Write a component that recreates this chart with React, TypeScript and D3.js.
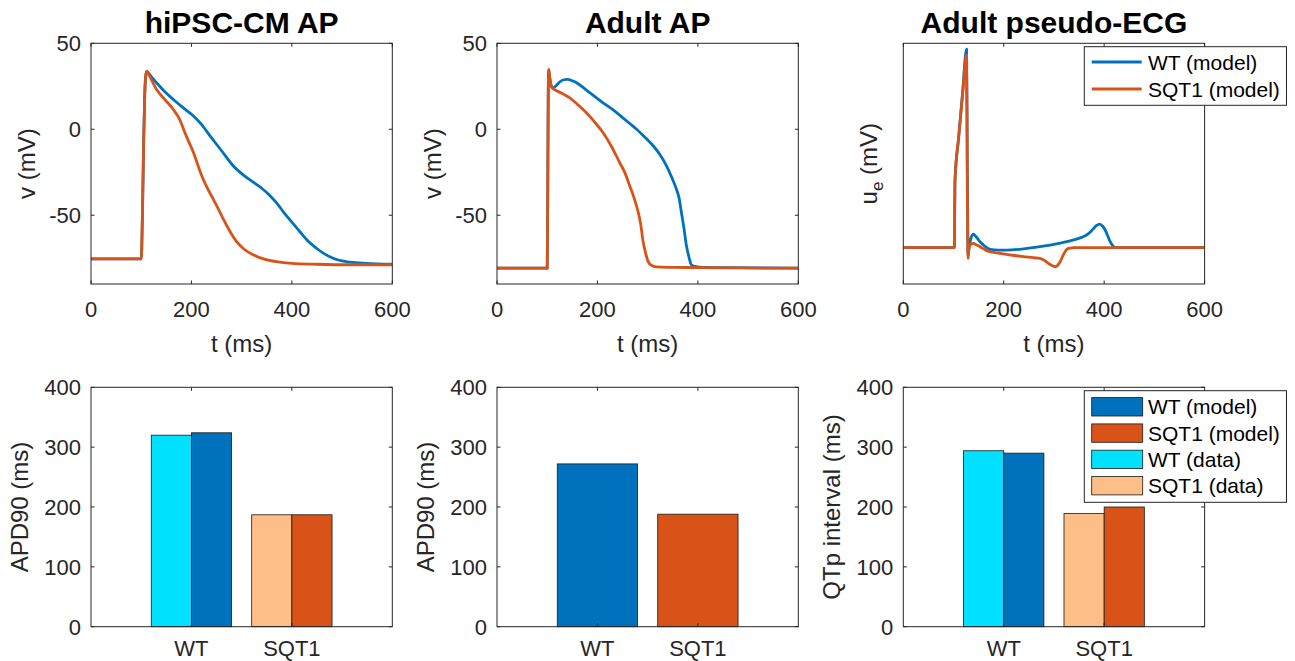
import React from 'react';
import * as d3 from 'd3';

const W = 1295;
const H = 661;
const FONT = "'Liberation Sans', Arial, Helvetica, sans-serif";
const AX = '#262626';
const BLUE = '#0072BD';
const ORANGE = '#D95319';
const CYAN = '#00E1FF';
const PEACH = '#FDBE87';

// ---- axis ticks / categories ----
const tTicks = [0, 200, 400, 600];
const vTicks = [-50, 0, 50];
const barTicks = [0, 100, 200, 300, 400];
const categories = ['WT', 'SQT1'];

// ---- hiPSC-CM AP ----
const hiWT_t = [0, 100, 101, 103, 105, 107, 109, 111, 113, 120, 131, 145, 164, 184, 204, 220, 237, 260, 283, 303, 323, 340, 356, 370, 383, 400, 416, 432, 449, 465, 482, 500, 515, 548, 600];
const hiWT_v = [-75.4, -75.4, -70, -40, -5, 20, 31, 33.7, 33.2, 30.6, 26.9, 22.4, 17.3, 12.4, 7.7, 2.8, -3.8, -12.5, -21.2, -26.5, -30.8, -34.3, -38.5, -43, -48, -54, -59.6, -65, -69.2, -72.5, -75, -76.6, -77.3, -78, -78.5];
const hiSQ_t = [0, 100, 101, 103, 105, 107, 109, 111, 113, 120, 131, 148, 164, 177, 187, 195, 204, 213, 223, 233, 243, 253, 263, 276, 290, 305, 323, 345, 369, 400, 449, 520, 600];
const hiSQ_v = [-75.4, -75.4, -70, -40, -5, 20, 31, 33.7, 33, 29, 23, 17, 11.5, 5.5, -2, -7.5, -13.5, -21, -28.8, -35, -40.4, -46, -52, -59, -65.4, -69.8, -73, -75.5, -77, -78, -78.5, -78.8, -78.8];

// ---- Adult AP ----
const adWT_t = [0, 100, 101, 102, 103, 105, 108, 112, 118, 125, 133, 140, 150, 160, 178, 195, 211, 230, 250, 265, 278, 295, 311, 325, 337, 348, 357, 363, 367, 372, 377, 382, 387, 395, 403, 450, 600];
const adWT_v = [-80.8, -80.8, -40, 20, 34.5, 30, 25.5, 24, 25.5, 27.5, 28.8, 29, 28.2, 26.8, 22.8, 19, 15.4, 11.5, 6.8, 3.2, 0, -4.8, -9.6, -15, -21, -28, -34.6, -40.5, -48, -57, -67.3, -74, -78.8, -79.8, -80.2, -80.5, -80.8];
const adSQ_t = [0, 100, 101, 102, 103, 105, 108, 112, 118, 125, 135, 145, 160, 178, 195, 211, 228, 244, 255, 264, 273, 281, 286, 291, 296, 301, 308, 317, 340, 377, 450, 600];
const adSQ_v = [-80.8, -80.8, -40, 20, 35, 30, 25, 23.5, 22.5, 21.5, 20, 18.3, 14.5, 9.6, 4, -1.9, -10, -19.2, -25.5, -32.7, -40, -48, -55, -65.4, -72, -77, -79.3, -80, -80.3, -80.4, -80.6, -80.8];

// ---- Adult pseudo-ECG (arbitrary units) ----
const ecgWT_t = [0, 101.5, 103, 110, 118, 126, 127.5, 129, 131, 135, 139.5, 145, 152.8, 160, 172.8, 190, 206, 240, 272, 310, 339, 355, 365, 373, 379, 385, 391, 397, 402, 407, 412, 417, 422, 440, 600];
const ecgWT_u = [0, 0, 0.341, 0.55, 0.78, 1.0, 0.4, -0.04, 0.0, 0.05, 0.068, 0.055, 0.03, 0.012, -0.008, -0.012, -0.012, -0.006, 0.005, 0.022, 0.039, 0.052, 0.064, 0.08, 0.097, 0.112, 0.119, 0.108, 0.089, 0.06, 0.03, 0.01, 0, 0, 0];
const ecgSQ_t = [0, 101.5, 103, 110, 118, 126, 127.5, 129, 131, 135, 139.5, 145, 152.8, 166, 192.7, 239, 265, 275, 282, 289, 296, 302.3, 307, 312.3, 318, 325.6, 332, 339, 600];
const ecgSQ_u = [0, 0, 0.341, 0.55, 0.77, 0.97, 0.3, -0.054, 0.0, 0.018, 0.022, 0.015, 0.005, -0.015, -0.029, -0.045, -0.052, -0.056, -0.066, -0.079, -0.09, -0.096, -0.09, -0.071, -0.04, -0.008, -0.002, 0, 0];

// ---- bar values ----
const hiPSC_data = [320, 187];
const hiPSC_model = [324, 187];
const adult_model = [272, 188];
const qtp_data = [294, 189];
const qtp_model = [290, 200];

const lineLegend = ['WT (model)', 'SQT1 (model)'];
const barLegend = ['WT (model)', 'SQT1 (model)', 'WT (data)', 'SQT1 (data)'];

const LEFTS = [91, 497, 903.3];
const PW = 301.3;
const TOP0 = 43.3, TOP1 = 284;
const BOT0 = 387.3, BOT1 = 626.7;
const TICK = 3.5;
const TICKFS = 22;
const LABFS = 24;

type Series = { t: number[]; v: number[]; color: string };

function Box({ left, top, bottom, xs, ys }: { left: number; top: number; bottom: number; xs: number[]; ys: number[] }) {
  const right = left + PW;
  return (
    <g stroke={AX} strokeWidth={1} fill="none">
      <rect x={left} y={top} width={PW} height={bottom - top} />
      {xs.map((x, i) => (
        <g key={'x' + i}>
          <line x1={x} x2={x} y1={bottom} y2={bottom - TICK} />
          <line x1={x} x2={x} y1={top} y2={top + TICK} />
        </g>
      ))}
      {ys.map((y, i) => (
        <g key={'y' + i}>
          <line x1={left} x2={left + TICK} y1={y} y2={y} />
          <line x1={right} x2={right - TICK} y1={y} y2={y} />
        </g>
      ))}
    </g>
  );
}

function LinePanel({ idx, title, yDomain, yTicks, series, ylabel }: { idx: number; title: string; yDomain: [number, number]; yTicks: number[]; series: Series[]; ylabel: React.ReactNode }) {
  const left = LEFTS[idx];
  const x = d3.scaleLinear().domain([0, 600]).range([left, left + PW]);
  const y = d3.scaleLinear().domain(yDomain).range([TOP1, TOP0]);
  const line = d3
    .line<[number, number]>()
    .x((d) => x(d[0]))
    .y((d) => y(d[1]))
    .curve(d3.curveMonotoneX);
  const cid = 'clipTop' + idx;
  return (
    <g>
      <defs>
        <clipPath id={cid}>
          <rect x={left} y={TOP0} width={PW} height={TOP1 - TOP0} />
        </clipPath>
      </defs>
      <g clipPath={`url(#${cid})`}>
        {series.map((s, i) => (
          <path key={i} d={line(s.t.map((t, j) => [t, s.v[j]] as [number, number])) || ''} fill="none" stroke={s.color} strokeWidth={2.8} strokeLinejoin="round" />
        ))}
      </g>
      <Box left={left} top={TOP0} bottom={TOP1} xs={tTicks.map((t) => x(t))} ys={yTicks.map((v) => y(v))} />
      <g fontFamily={FONT} fontSize={TICKFS} fill={AX}>
        {tTicks.map((t) => (
          <text key={t} x={x(t)} y={TOP1 + 33} textAnchor="middle">{t}</text>
        ))}
        {yTicks.map((v) => (
          <text key={v} x={left - 10} y={y(v) + 8} textAnchor="end">{v}</text>
        ))}
        <text x={left + PW / 2} y={TOP1 + 68} textAnchor="middle" fontSize={LABFS}>t (ms)</text>
        {ylabel}
      </g>
      <text x={left + PW / 2} y={33} textAnchor="middle" fontFamily={FONT} fontWeight="bold" fontSize={30} fill="#000">{title}</text>
    </g>
  );
}

type BarSet = { values: number[]; colors: string[]; offset: number; width: number };

function BarPanel({ idx, ylabel, sets }: { idx: number; ylabel: string; sets: BarSet[] }) {
  const left = LEFTS[idx];
  const x = d3.scaleLinear().domain([0, 3]).range([left, left + PW]);
  const y = d3.scaleLinear().domain([0, 400]).range([BOT1, BOT0]);
  const pos = [1, 2];
  return (
    <g>
      {sets.map((s, si) =>
        s.values.map((v, ci) => (
          <rect key={si + '-' + ci} x={x(pos[ci] + s.offset)} y={y(v)} width={x(s.width) - x(0)} height={y(0) - y(v)} fill={s.colors[ci]} stroke="#1a1a1a" strokeWidth={0.8} />
        ))
      )}
      <Box left={left} top={BOT0} bottom={BOT1} xs={pos.map((p) => x(p))} ys={barTicks.map((v) => y(v))} />
      <g fontFamily={FONT} fontSize={TICKFS} fill={AX}>
        {categories.map((c, i) => (
          <text key={c} x={x(pos[i])} y={BOT1 + 29.5} textAnchor="middle">{c}</text>
        ))}
        {barTicks.map((v) => (
          <text key={v} x={left - 10} y={y(v) + 8} textAnchor="end">{v}</text>
        ))}
        <text transform={`translate(${left - 63},${(BOT0 + BOT1) / 2}) rotate(-90)`} textAnchor="middle" fontSize={LABFS}>{ylabel}</text>
      </g>
    </g>
  );
}

export default function App() {
  const vLabel = (idx: number) => (
    <text transform={`translate(${LEFTS[idx] - 56},${(TOP0 + TOP1) / 2}) rotate(-90)`} textAnchor="middle" fontSize={LABFS}>v (mV)</text>
  );
  const ueLabel = (
    <text transform={`translate(${LEFTS[2] - 26},${(TOP0 + TOP1) / 2}) rotate(-90)`} textAnchor="middle" fontSize={LABFS}>
      u<tspan fontSize={17} dy={6}>e</tspan><tspan dy={-6}> (mV)</tspan>
    </text>
  );
  const lx0 = 1084.3, lx1 = 1286.5;
  return (
    <svg width={W} height={H} style={{ position: 'absolute', left: 0, top: 0, background: '#fff' }} xmlns="http://www.w3.org/2000/svg">
      <rect x={0} y={0} width={W} height={H} fill="#fff" />
      <LinePanel idx={0} title="hiPSC-CM AP" yDomain={[-90, 50]} yTicks={vTicks} ylabel={vLabel(0)}
        series={[{ t: hiWT_t, v: hiWT_v, color: BLUE }, { t: hiSQ_t, v: hiSQ_v, color: ORANGE }]} />
      <LinePanel idx={1} title="Adult AP" yDomain={[-90, 50]} yTicks={vTicks} ylabel={vLabel(1)}
        series={[{ t: adWT_t, v: adWT_v, color: BLUE }, { t: adSQ_t, v: adSQ_v, color: ORANGE }]} />
      <LinePanel idx={2} title="Adult pseudo-ECG" yDomain={[-0.183, 1.03]} yTicks={[]} ylabel={ueLabel}
        series={[{ t: ecgWT_t, v: ecgWT_u, color: BLUE }, { t: ecgSQ_t, v: ecgSQ_u, color: ORANGE }]} />

      <BarPanel idx={0} ylabel="APD90 (ms)" sets={[
        { values: hiPSC_data, colors: [CYAN, PEACH], offset: -0.4, width: 0.4 },
        { values: hiPSC_model, colors: [BLUE, ORANGE], offset: 0, width: 0.4 },
      ]} />
      <BarPanel idx={1} ylabel="APD90 (ms)" sets={[
        { values: adult_model, colors: [BLUE, ORANGE], offset: -0.4, width: 0.8 },
      ]} />
      <BarPanel idx={2} ylabel="QTp interval (ms)" sets={[
        { values: qtp_data, colors: [CYAN, PEACH], offset: -0.4, width: 0.4 },
        { values: qtp_model, colors: [BLUE, ORANGE], offset: 0, width: 0.4 },
      ]} />

      {/* top legend */}
      <g fontFamily={FONT} fontSize={21} fill="#000">
        <rect x={lx0} y={46.7} width={lx1 - lx0} height={58.6} fill="#fff" stroke={AX} strokeWidth={1} />
        {lineLegend.map((s, i) => (
          <g key={s}>
            <line x1={1091.7} x2={1141.7} y1={62 + i * 27} y2={62 + i * 27} stroke={[BLUE, ORANGE][i]} strokeWidth={2.8} />
            <text x={1148} y={62 + i * 27 + 7.5}>{s}</text>
          </g>
        ))}
      </g>
      {/* bottom legend */}
      <g fontFamily={FONT} fontSize={21} fill="#000">
        <rect x={lx0} y={390.7} width={lx1 - lx0} height={111.6} fill="#fff" stroke={AX} strokeWidth={1} />
        {barLegend.map((s, i) => (
          <g key={s}>
            <rect x={1091.7} y={406.8 + i * 26.3 - 9.2} width={51} height={18.4} fill={[BLUE, ORANGE, CYAN, PEACH][i]} stroke="#1a1a1a" strokeWidth={0.8} />
            <text x={1148} y={406.8 + i * 26.3 + 7.5}>{s}</text>
          </g>
        ))}
      </g>
    </svg>
  );
}
